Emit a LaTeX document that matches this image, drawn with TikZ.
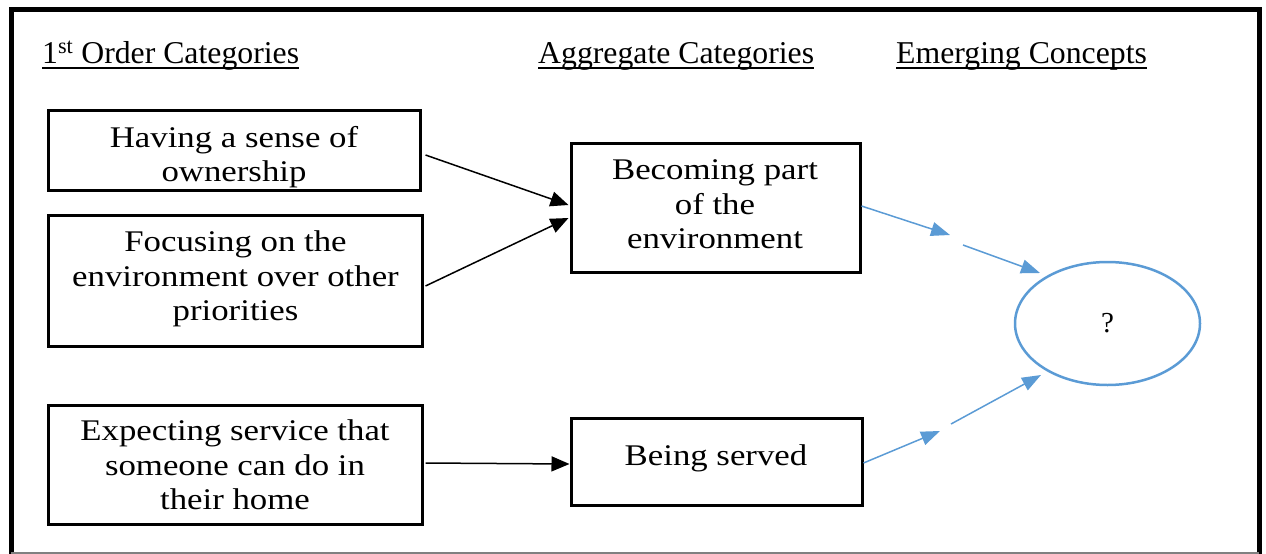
\documentclass[tikz,border=0pt]{standalone}
\usepackage{fontspec}
\setmainfont{Liberation Serif}
\newfontfamily\boxfont[FakeStretch=1.16]{Liberation Serif}
\usetikzlibrary{arrows.meta,shapes.geometric}
\definecolor{accent}{HTML}{5B9BD5}
\tikzset{
  frame/.style={line width=5pt},
  catbox/.style={draw, line width=3pt, rectangle, inner sep=0pt},
  boxtext/.style={inner sep=0pt, align=center, font=\boxfont\fontsize{30}{34.5}\selectfont},
  heading/.style={inner sep=0pt, anchor=base west, font=\fontsize{31.75}{38}\selectfont},
  flow/.style={line width=1.5pt, -{Triangle[length=18pt,width=15pt]}},
  link/.style={accent, line width=1.5pt, -{Triangle[length=19pt,width=14pt]}},
}
\begin{document}
\begin{tikzpicture}[x=1pt,y=-1pt]
\useasboundingbox (0,0) rectangle (1266,554);

% outer frame
\draw[frame] (11,560) -- (11,9.5) -- (1259,9.5) -- (1259,560);
\draw[gray, line width=1.5pt] (11,553) -- (1259,553);

% column headings
\node[heading] (h1) at (42,63) {1\textsuperscript{st} Order Categories};
\node[heading] (h2) at (538,63) {Aggregate Categories};
\node[heading] (h3) at (896,63) {Emerging Concepts};
\foreach \h in {h1,h2,h3}
  \draw[line width=2pt] ([yshift=-5pt]\h.base west) -- ([yshift=-5pt]\h.base east);

% first order categories
\node[catbox, minimum width=372pt, minimum height=80pt] (a) at (234,150) {};
\node[catbox, minimum width=374pt, minimum height=131pt] (b) at (235,280.5) {};
\node[catbox, minimum width=374pt, minimum height=119pt] (c) at (235,464.5) {};
\begin{scope}
  \clip ([xshift=1.5pt,yshift=1.5pt]a.south west) rectangle ([xshift=-1.5pt,yshift=-1.5pt]a.north east);
  \node[boxtext] (at) at (234,157.5) {\strut Having a sense of\\ownership\strut};
\end{scope}
\node[boxtext] (bt) at (235.5,279.5) {\strut Focusing on the\\environment over other\\priorities\strut};
\node[boxtext] (ct) at (235,468.5) {\strut Expecting service that\\someone can do in\\their home\strut};

% aggregate categories
\node[catbox, minimum width=289pt, minimum height=129pt] (d) at (715.5,207.5) {};
\node[catbox, minimum width=291pt, minimum height=87pt] (e) at (716.5,461.5) {};
\node[boxtext] (dt) at (715,207.5) {\strut Becoming part\\of the\\environment\strut};
\node[boxtext] (et) at (716,459) {\strut Being served\strut};

% emerging concept
\node[ellipse, draw=accent, line width=2.5pt, minimum width=185pt, minimum height=123pt,
      inner sep=0pt, font=\fontsize{29}{34}\selectfont] (q) at (1107.5,323.5) {?};

% links from first order to aggregate categories
\draw[flow] ([xshift=4pt,yshift=-5pt]a.east) -- ([xshift=-1pt,yshift=2.5pt]d.west);
\draw[flow] ([xshift=2pt,yshift=-5.5pt]b.east) -- ([xshift=-1pt,yshift=-10.5pt]d.west);
\draw[flow] ([xshift=2pt,yshift=1.5pt]c.east) -- ([yshift=-2.5pt]e.west);

% links from aggregate categories to the concept
\coordinate (u1) at (950,235);
\coordinate (u2) at (963,245);
\coordinate (u3) at (1040,273);
\coordinate (l1) at (940,431);
\coordinate (l2) at (951,424);
\coordinate (l3) at (1041,375);
\draw[link] ([yshift=1.5pt]d.east) -- (u1);
\draw[link] (u2) -- (u3);
\draw[link] ([yshift=-1.5pt]e.east) -- (l1);
\draw[link] (l2) -- (l3);
\end{tikzpicture}
\end{document}
